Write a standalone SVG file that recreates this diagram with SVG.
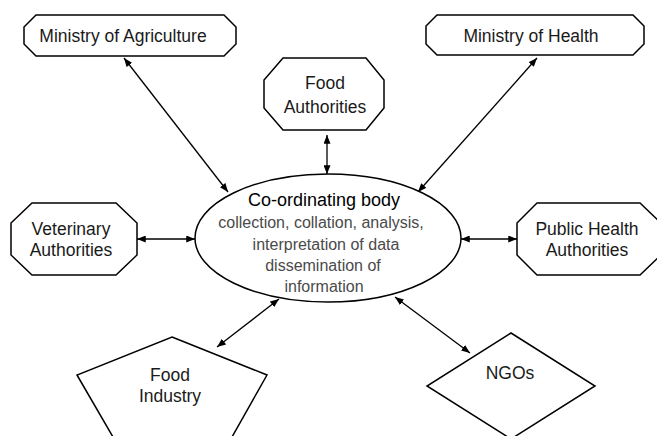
<svg xmlns="http://www.w3.org/2000/svg" width="657" height="436" viewBox="0 0 657 436">
<defs>
<marker id="ah" viewBox="0 0 10 8" refX="10" refY="4" markerWidth="9" markerHeight="7" markerUnits="userSpaceOnUse" orient="auto-start-reverse">
<path d="M0,0 L10,4 L0,8 Z" fill="#000"/>
</marker>
</defs>
<style>
.shape{fill:#fff;stroke:#000;stroke-width:1.5}
.lbl{font-family:"Liberation Sans",Arial,sans-serif;font-size:17.5px;fill:#1a1a1a;text-anchor:middle}
.body{font-family:"Liberation Sans",Arial,sans-serif;font-size:16px;fill:#4a4a4a;text-anchor:middle}
.title{font-family:"Liberation Sans",Arial,sans-serif;font-size:18px;fill:#000;text-anchor:middle}
.conn{stroke:#000;stroke-width:1.3;fill:none;marker-start:url(#ah);marker-end:url(#ah)}
</style>
<rect width="657" height="436" fill="#fff"/>
<g id="connectors">
<line class="conn" x1="124" y1="58" x2="228" y2="192"/>
<line class="conn" x1="537" y1="58" x2="418" y2="192"/>
<line class="conn" x1="327" y1="135" x2="327" y2="174"/>
<line class="conn" x1="137" y1="239" x2="195" y2="239"/>
<line class="conn" x1="461" y1="239" x2="517" y2="239"/>
<line class="conn" x1="279" y1="299" x2="217" y2="347"/>
<line class="conn" x1="395" y1="297" x2="470" y2="353"/>
</g>
<g id="ministry-agriculture">
<polygon class="shape" points="36,15 224,15 236,27 236,44 224,56 36,56 24,44 24,27"/>
<text class="lbl" x="123" y="42">Ministry of Agriculture</text>
</g>
<g id="ministry-health">
<polygon class="shape" points="437,15 633,15 644,26 644,44 633,55 437,55 426,44 426,26"/>
<text class="lbl" x="531" y="42">Ministry of Health</text>
</g>
<g id="food-authorities">
<polygon class="shape" points="283,58 366,58 384,80 384,108 366,130 283,130 264,108 264,80"/>
<text class="lbl" x="325" y="89">Food</text>
<text class="lbl" x="325" y="113">Authorities</text>
</g>
<g id="veterinary-authorities">
<polygon class="shape" points="32,203 116,203 137,223 137,255 116,275 32,275 11,255 11,223"/>
<text class="lbl" x="71" y="235">Veterinary</text>
<text class="lbl" x="71" y="256">Authorities</text>
</g>
<g id="public-health-authorities">
<polygon class="shape" points="537,203 640,203 661,223 661,255 640,275 537,275 517,255 517,223"/>
<text class="lbl" x="587" y="235">Public Health</text>
<text class="lbl" x="587" y="256">Authorities</text>
</g>
<g id="coordinating-body">
<ellipse class="shape" cx="328" cy="238" rx="133" ry="64"/>
<text class="title" x="324" y="206">Co-ordinating body</text>
<text class="body" x="321" y="228">collection, collation, analysis,</text>
<text class="body" x="326" y="250">interpretation of data</text>
<text class="body" x="323" y="271">dissemination of</text>
<text class="body" x="324" y="292">information</text>
</g>
<g id="food-industry">
<polygon class="shape" points="172,337 267,375 232,437 113,437 77,375"/>
<text class="lbl" x="170" y="381">Food</text>
<text class="lbl" x="170" y="402">Industry</text>
</g>
<g id="ngos">
<polygon class="shape" points="511,333 595,386 511,439 427,386"/>
<text class="lbl" x="510" y="379">NGOs</text>
</g>
</svg>
